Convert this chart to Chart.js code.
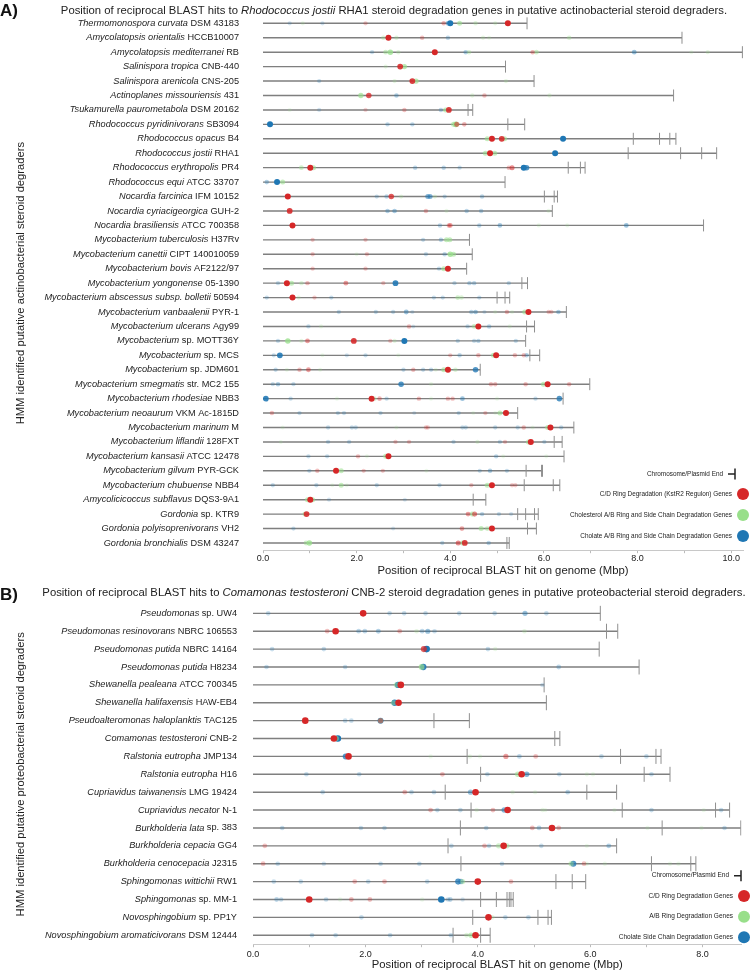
<!DOCTYPE html>
<html><head><meta charset="utf-8">
<script src="https://cdn.jsdelivr.net/npm/chart.js@4.4.1/dist/chart.umd.min.js"></script>
<style>
html,body{margin:0;padding:0;background:#fff;}
#wrap{position:relative;width:750px;height:973px;overflow:hidden;background:#fff;}
canvas{position:absolute;left:0;}
</style></head><body>
<div id="wrap">
<canvas id="chartA" width="750" height="580" style="top:0px"></canvas>
<canvas id="chartB" width="750" height="393" style="top:580px"></canvas>
</div>
<script>
// ---------------- DATA: panel A (actinobacteria) ----------------
const speciesA = ['Thermomonospora curvata','Amycolatopsis orientalis','Amycolatopsis mediterranei','Salinispora tropica','Salinispora arenicola','Actinoplanes missouriensis','Tsukamurella paurometabola','Rhodococcus pyridinivorans','Rhodococcus opacus','Rhodococcus jostii','Rhodococcus erythropolis','Rhodococcus equi','Nocardia farcinica','Nocardia cyriacigeorgica','Nocardia brasiliensis','Mycobacterium tuberculosis','Mycobacterium canettii','Mycobacterium bovis','Mycobacterium yongonense','Mycobacterium abscessus subsp. bolletii','Mycobacterium vanbaalenii','Mycobacterium ulcerans','Mycobacterium','Mycobacterium','Mycobacterium','Mycobacterium smegmatis','Mycobacterium rhodesiae','Mycobacterium neoaurum','Mycobacterium marinum','Mycobacterium liflandii','Mycobacterium kansasii','Mycobacterium gilvum','Mycobacterium chubuense','Amycolicicoccus subflavus','Gordonia','Gordonia polyisoprenivorans','Gordonia bronchialis'];
const strainsA = ['DSM 43183','HCCB10007','RB','CNB-440','CNS-205','431','DSM 20162','SB3094','B4','RHA1','PR4','ATCC 33707','IFM 10152','GUH-2','ATCC 700358','H37Rv','CIPT 140010059','AF2122/97','05-1390','50594','PYR-1','Agy99','sp. MOTT36Y','sp. MCS','sp. JDM601','str. MC2 155','NBB3','VKM Ac-1815D','M','128FXT','ATCC 12478','PYR-GCK','NBB4','DQS3-9A1','sp. KTR9','VH2','DSM 43247'];
// cumulative chromosome / plasmid end positions (Mbp)
const endsA = [[5.64],[8.95],[10.24],[5.18],[5.79],[8.77],[4.38,4.48],[5.23,5.59],[7.91,8.47,8.69,8.82],[7.8,8.92,9.37,9.69],
 [6.52,6.78,6.88],[5.17],[6.01,6.22,6.29],[6.18],[9.41],[4.41],[4.47],[4.35],[5.53,5.65],[5.0,5.17,5.27],
 [6.48],[5.63,5.8],[5.61],[5.7,5.91],[4.64],[6.98],[6.41],[5.44],[6.64],[6.22,6.39],
 [6.43],[5.62,5.95,5.97],[5.58,6.2,6.34],[4.49,4.76],[5.44,5.61,5.8,5.88],[5.65,5.84],[5.21,5.26]];
// hits: [position Mbp, hit score 0..1]
const cdHitsA = [
 [[2.19,.3],[3.86,.4],[5.23,1]],[[2.68,1],[3.4,.35]],[[3.67,1],[5.76,.4]],[[2.93,.9]],[[3.19,.9]],
 [[2.26,.8],[4.73,.35]],[[2.19,.25],[3.02,.35],[3.97,.9]],[[4.14,.6],[4.3,.4]],[[4.89,1],[5.1,.9]],[[4.85,1]],
 [[1.01,1],[5.25,.35],[5.32,.6]],[],[[0.53,1],[2.74,.8]],[[0.57,.9],[3.48,.35]],[[0.63,1],[3.97,.4],[4.0,.5]],
 [[1.06,.3],[2.19,.3]],[[1.06,.3],[2.22,.3]],[[1.06,.3],[2.19,.3],[3.95,1]],[[0.51,1],[0.95,.35],[1.77,.5],[2.57,.3]],[[0.63,1],[1.1,.3]],
 [[5.21,.35],[5.67,1],[6.1,.3],[6.16,.3]],[[3.12,.35],[4.6,1]],[[0.95,.5],[1.94,.9],[2.72,.3]],[[4.0,.3],[4.6,.35],[4.98,1],[5.38,.35],[5.57,.35]],
 [[0.78,.35],[0.97,.5],[3.21,.35],[3.95,1]],[[4.87,.35],[4.96,.35],[5.61,.35],[6.08,1],[6.54,.35]],[[2.32,1],[2.49,.4],[3.33,.35],[3.95,.35],[4.05,.35]],
 [[0.19,.35],[4.75,.3],[5.19,1]],[[3.48,.3],[3.52,.3],[5.57,.35],[6.14,1]],[[2.83,.3],[3.12,.3],[5.17,.3],[5.72,1]],[[2.03,.35],[2.68,1]],
 [[1.16,.35],[1.56,1],[2.15,.3],[2.56,.3]],[[4.45,.3],[4.89,1],[5.32,.3],[5.39,.3]],[[1.01,1]],[[0.93,.9],[4.38,.5],[4.52,.6]],[[4.25,.45],[4.89,1]],[[4.17,.6],[4.31,.9]]];
const abHitsA = [
 [[0.85,.25],[4.2,.6],[4.54,.35],[4.96,.3]],[[2.57,.4],[2.85,.35],[4.7,.3],[4.83,.25],[6.54,.4]],[[2.62,.5],[2.72,.8],[2.89,.35],[4.4,.4],[5.84,.5],[9.15,.2],[9.5,.3]],
 [[2.62,.3],[3.02,.7]],[[2.81,.3],[3.27,.7],[5.19,.3]],[[2.09,.7],[4.47,.3],[6.12,.3]],[[0.57,.2],[3.9,.6]],[[4.07,.6],[4.12,.9]],
 [[4.79,.6],[5.16,.6]],[[4.75,.6],[4.95,.6]],[[0.82,.5],[1.08,.6]],[[0.42,.6]],[[2.95,.3],[3.67,.3]],[[3.92,.25],[6.1,.25]],
 [[5.89,.25],[6.5,.2]],[[3.92,.6],[3.99,.6]],[[2.0,.2],[4.0,.8],[4.07,.6]],[[3.86,.6]],[[0.61,.6],[0.82,.35]],[[0.76,.3],[4.16,.5],[4.24,.4]],
 [[4.96,.25],[5.32,.25],[5.59,.6]],[[1.24,.25],[4.51,.5],[5.27,.25]],[[0.53,.8],[0.82,.3],[2.81,.3]],[[1.27,.2],[2.89,.2],[4.92,.6]],
 [[0.51,.25],[1.22,.25],[3.69,.25],[3.86,.6],[4.11,.4]],[[3.59,.25],[5.99,.6]],[[1.58,.2],[2.38,.4],[3.59,.2],[5.0,.2]],[[4.49,.2],[4.96,.2],[5.06,.6]],
 [[0.42,.2],[2.85,.2],[5.76,.2],[6.08,.6]],[[0.38,.2],[4.58,.3],[5.67,.6]],[[2.22,.2],[2.62,.6],[5.13,.2],[6.05,.2]],[[1.67,.6],[3.49,.2]],
 [[1.48,.2],[1.67,.6],[1.79,.2],[4.79,.6]],[[0.95,.6],[1.06,.6]],[[0.89,.5],[4.47,.6]],[[4.66,.6],[4.79,.5]],[[0.92,.5],[0.99,.8],[4.26,.6]]];
const chHitsA = [
 [[0.57,.25],[1.27,.25],[3.95,.5],[4.0,1]],[[3.95,.35]],[[2.33,.3],[4.33,.4],[7.93,.5]],[],[[1.2,.3]],[[2.85,.4]],[[1.2,.25],[3.8,.35]],
 [[0.15,1],[2.66,.35],[3.19,.35]],[[6.41,1]],[[6.24,1]],[[3.25,.35],[3.86,.35],[4.2,.3],[5.57,1],[5.63,.8]],[[0.08,.4],[0.3,1]],
 [[2.43,.3],[2.64,.35],[3.52,.6],[3.57,.6],[3.88,.3],[4.68,.35]],[[2.66,.4],[2.81,.45],[4.35,.35],[4.66,.35]],[[3.78,.35],[4.62,.35],[5.06,.45],[7.76,.5]],
 [[3.42,.3],[3.8,.35]],[[3.48,.3],[3.88,.35]],[[3.76,.3]],[[0.32,.3],[2.83,.9],[4.09,.3],[4.41,.35],[4.51,.35],[5.25,.3]],[[0.08,.3],[1.46,.3],[3.65,.3],[3.84,.3],[4.62,.3]],
 [[1.62,.3],[2.41,.3],[2.78,.3],[3.06,.5],[3.19,.25],[4.45,.35],[4.54,.45],[4.73,.25],[6.31,.4]],[[0.97,.3],[3.21,.2],[4.37,.3],[4.83,.35]],
 [[0.32,.3],[3.02,1],[4.16,.3],[4.51,.3],[4.6,.35],[5.4,.3]],[[0.23,.3],[0.36,.9],[1.79,.25],[2.19,.3],[4.2,.35],[5.63,.4]],
 [[0.27,.3],[3.0,.3],[3.42,.3],[3.59,.3],[4.54,.8]],[[0.21,.3],[0.32,.4],[0.65,.3],[2.95,.8]],[[0.06,.9],[0.59,.3],[2.64,.3],[4.26,.5],[5.82,.3],[6.33,.8]],
 [[0.78,.3],[1.6,.3],[1.73,.3],[2.51,.3],[3.23,.2],[4.18,.3]],[[1.39,.3],[1.9,.3],[1.98,.3],[4.26,.3],[4.33,.3],[4.96,.3],[5.44,.3],[6.37,.3]],
 [[1.39,.3],[1.84,.3],[4.07,.3],[5.06,.3],[6.01,.3]],[[0.97,.3],[1.37,.3],[4.98,.35]],[[0.99,.3],[4.63,.3],[4.85,.4],[5.21,.3]],
 [[0.21,.3],[1.14,.3],[2.43,.3],[3.77,.3]],[[1.41,.25],[3.03,.2]],[[4.68,.35],[5.04,.3],[5.3,.25]],[[0.65,.3],[2.78,.2]],[[3.83,.3],[4.82,.35]]];
const titleA = [['Position of reciprocal BLAST hits to ', false], ['Rhodococcus jostii', true], [' RHA1 steroid degradation genes in putative actinobacterial steroid degraders.', false]];
const yTitleA = 'HMM identified putative actinobacterial steroid degraders';
const legendA = ['Chromosome/Plasmid End', 'C/D Ring Degradation (KstR2 Regulon) Genes', 'Cholesterol A/B Ring and Side Chain Degradation Genes', 'Cholate A/B Ring and Side Chain Degradation Genes'];

// ---------------- DATA: panel B (proteobacteria) ----------------
const speciesB = ['Pseudomonas','Pseudomonas resinovorans','Pseudomonas putida','Pseudomonas putida','Shewanella pealeana','Shewanella halifaxensis','Pseudoalteromonas haloplanktis','Comamonas testosteroni','Ralstonia eutropha','Ralstonia eutropha','Cupriavidus taiwanensis','Cupriavidus necator','Burkholderia lata','Burkholderia cepacia','Burkholderia cenocepacia','Sphingomonas wittichii','Sphingomonas','Novosphingobium','Novosphingobium aromaticivorans'];
const strainsB = ['sp. UW4','NBRC 106553','NBRC 14164','H8234','ATCC 700345','HAW-EB4','TAC125','CNB-2','JMP134','H16','LMG 19424','N-1','sp. 383','GG4','J2315','RW1','sp. MM-1','sp. PP1Y','DSM 12444'];
const endsB = [[6.18],[6.29,6.49],[6.16],[6.87],[5.18],[5.22],[3.22,3.85],[5.37,5.46],[3.81,6.54,7.17,7.26],[4.05,6.96,7.42],
 [3.42,5.94,6.47],[3.88,6.57,8.23,8.48],[3.69,7.28,8.68],[3.47,6.47],[3.7,7.09,7.79,7.88],[5.39,5.68,5.92],[4.05,4.33,4.52,4.56,4.59,4.63],[3.91,5.07,5.25,5.31],[3.56,4.05,4.22]];
const cdHitsB = [
 [[1.96,1]],[[1.32,.35],[1.47,1],[2.61,.35]],[[3.04,.8]],[],[[2.63,1]],[[2.59,1]],[[0.93,1],[2.27,.5]],[[1.44,1]],
 [[1.7,1],[4.5,.5],[5.03,.35]],[[3.37,.35],[4.78,1]],[[2.7,.35],[3.96,1]],[[3.16,.35],[4.27,.35],[4.53,1]],
 [[4.97,.35],[5.32,1],[5.44,.35]],[[0.21,.35],[4.12,.35],[4.46,1]],[[0.18,.35],[5.89,.35]],[[1.81,.35],[2.34,.35],[4.0,1],[4.59,.35]],
 [[1.0,1],[1.75,.35],[2.08,.35]],[[4.19,1]],[[3.96,1]]];
const abHitsB = [
 [],[[2.91,.3],[4.83,.3]],[[4.31,.25]],[[3.0,.7]],[[2.55,.5]],[[2.5,.5]],[[2.27,.5]],[[1.48,.6]],
 [[3.16,.2],[3.86,.25],[4.04,.2]],[[4.71,.6],[5.94,.2],[6.05,.2]],[[4.62,.25],[5.02,.2]],[[3.98,.25],[5.15,.25],[5.2,.2],[6.43,.2],[8.02,.2]],
 [[7.02,.2],[7.98,.2]],[[4.37,.5],[4.52,.5],[5.94,.2]],[[5.66,.5],[5.94,.2],[6.26,.2],[7.42,.2],[7.57,.2]],[[3.73,.5]],
 [[1.55,.2],[3.01,.2]],[[4.26,.3]],[[3.8,.35],[3.88,.6]]];
const chHitsB = [
 [[0.27,.3],[2.43,.3],[2.69,.3],[3.07,.3],[3.67,.3],[4.3,.3],[4.84,.5],[5.22,.3]],[[1.88,.35],[1.99,.35],[2.23,.4],[3.01,.35],[3.11,.5],[3.23,.3]],
 [[0.34,.3],[1.26,.3],[3.09,1],[4.18,.3]],[[0.24,.3],[1.64,.3],[3.03,.9],[5.44,.35]],[[2.58,.9],[5.15,.25]],[[2.52,.9]],[[1.64,.3],[1.75,.3],[2.27,.8]],[[1.51,1]],
 [[1.65,.8],[4.74,.35],[6.2,.3],[7.0,.3]],[[0.95,.3],[1.89,.3],[4.17,.3],[4.87,.6],[5.45,.3],[7.09,.3]],[[1.24,.3],[2.82,.3],[3.22,.3],[3.87,.5],[5.6,.35]],
 [[3.28,.3],[3.69,.3],[4.47,.6],[7.09,.3],[8.33,.3]],[[0.52,.3],[1.92,.3],[2.34,.3],[4.15,.3],[5.09,.35],[8.39,.3]],[[3.53,.3],[4.2,.3],[5.13,.3],[6.33,.4]],
 [[0.44,.3],[1.26,.25],[2.27,.3],[2.96,.3],[4.43,.3],[5.7,.8]],[[0.37,.3],[0.85,.3],[2.05,.3],[3.1,.3],[3.65,.8],[3.7,.6]],
 [[0.42,.35],[0.5,.3],[1.3,.3],[3.35,1],[3.47,.3],[3.51,.35],[3.73,.2]],[[1.93,.3],[4.49,.3],[4.9,.3]],[[1.05,.3],[1.47,.3],[2.44,.3],[3.52,.3]]];
const titleB = [['Position of reciprocal BLAST hits to ', false], ['Comamonas testosteroni', true], [' CNB-2 steroid degradation genes in putative proteobacterial steroid degraders.', false]];
const yTitleB = 'HMM identified putative proteobacterial steroid degraders';
const legendB = ['Chromosome/Plasmid End', 'C/D Ring Degradation Genes', 'A/B Ring Degradation Genes', 'Cholate Side Chain Degradation Genes'];
const xTitle = 'Position of reciprocal BLAST hit on genome (Mbp)';

// ---------------- rendering ----------------
const FONT = "'Liberation Sans', Arial, Helvetica, sans-serif";
const COL = { cd: [214, 39, 40], ab: [152, 223, 138], ch: [31, 119, 180] };
const rgba = (c, a) => `rgba(${c[0]},${c[1]},${c[2]},${a})`;

function drawRuns(ctx, runs, x, y, align, size, color) {
  let total = 0;
  const widths = runs.map(r => { ctx.font = (r[1] ? 'italic ' : '') + size + 'px ' + FONT; const w = ctx.measureText(r[0]).width; total += w; return w; });
  let cx = align === 'right' ? x - total : align === 'center' ? x - total / 2 : x;
  ctx.fillStyle = color; ctx.textAlign = 'left'; ctx.textBaseline = 'middle';
  runs.forEach((r, i) => { ctx.font = (r[1] ? 'italic ' : '') + size + 'px ' + FONT; ctx.fillText(r[0], cx, y); cx += widths[i]; });
}

function rowsToPoints(rows) { const pts = []; rows.forEach((row, i) => row.forEach(h => pts.push({ x: h[0], y: i, s: h[1] }))); return pts; }

function buildPanel(canvasId, d, L) {
  const n = d.species.length;
  const linePts = [], endPts = [];
  d.ends.forEach((arr, i) => {
    linePts.push({ x: 0, y: i }, { x: arr[arr.length - 1], y: i }, { x: null, y: i });
    arr.forEach(e => endPts.push({ x: e, y: i }));
  });
  const hitSet = (label, rows, col, order) => ({
    type: 'scatter', label, data: rowsToPoints(rows), order,
    pointStyle: 'circle', pointBorderWidth: 0,
    pointBackgroundColor: c => rgba(col, c.raw ? Math.max(0.16, Math.pow(c.raw.s, 1.2)) : 1),
    pointRadius: c => c.raw ? L.dotBase + L.dotGain * c.raw.s : 3,
    pointHoverRadius: c => c.raw ? L.dotBase + L.dotGain * c.raw.s : 3
  });
  const textPlugin = {
    id: 'panelText' + canvasId,
    afterDraw(chart) {
      const ctx = chart.ctx, ys = chart.scales.y;
      ctx.save();
      d.species.forEach((sp, i) => {
        drawRuns(ctx, [[sp, true], [' ' + d.strains[i], false]], L.nameRight, ys.getPixelForValue(i), 'right', L.nameSize, '#222');
      });
      ctx.font = 'bold ' + L.letterSize + 'px ' + FONT; ctx.fillStyle = '#111'; ctx.textAlign = 'left'; ctx.textBaseline = 'middle';
      ctx.fillText(d.letter, 0, L.letterY);
      drawRuns(ctx, d.title, L.titleX, L.titleY, 'center', L.titleSize, '#222');
      // legend
      const ly = L.legendYs;
      ctx.strokeStyle = '#222'; ctx.lineWidth = 1.5;
      ctx.beginPath(); ctx.moveTo(L.endSymX - 7, ly[0]); ctx.lineTo(L.endSymX, ly[0]);
      ctx.moveTo(L.endSymX, ly[0] - 5.5); ctx.lineTo(L.endSymX, ly[0] + 5.5); ctx.stroke();
      drawRuns(ctx, [[d.legend[0], false]], L.endSymX - 12, ly[0], 'right', L.legendSize, '#222');
      [COL.cd, COL.ab, COL.ch].forEach((c, k) => {
        ctx.fillStyle = rgba(c, 1); ctx.beginPath(); ctx.arc(L.legendX, ly[k + 1], L.legendR, 0, Math.PI * 2); ctx.fill();
        drawRuns(ctx, [[d.legend[k + 1], false]], L.legendX - L.legendR - 5, ly[k + 1], 'right', L.legendSize, '#222');
      });
      ctx.restore();
    }
  };
  return new Chart(document.getElementById(canvasId), {
    type: 'scatter',
    data: { datasets: [
      hitSet(d.legend[1], d.cd, COL.cd, 0),
      hitSet(d.legend[2], d.ab, COL.ab, 1),
      hitSet(d.legend[3], d.ch, COL.ch, 2),
      { type: 'scatter', label: d.legend[0], data: endPts, order: 3, pointStyle: 'line', pointRotation: 90,
        pointRadius: L.tickR, pointHoverRadius: L.tickR, pointBorderColor: '#8f8f8f', pointBorderWidth: 1 },
      { type: 'line', label: 'genome', data: linePts, order: 4, borderColor: 'rgba(120,120,120,0.95)', borderWidth: 1.4,
        pointRadius: 0, pointHoverRadius: 0, spanGaps: false, fill: false, tension: 0 }
    ] },
    options: {
      responsive: false, animation: false, devicePixelRatio: 1,
      layout: { padding: { top: L.padTop, right: L.padRight, left: 0, bottom: 0 } },
      plugins: { legend: { display: false }, tooltip: { enabled: false }, title: { display: false } },
      events: [],
      scales: {
        x: { type: 'linear', min: 0, max: L.xMax,
          afterFit: s => { s.height = L.xAxisH; },
          ticks: { stepSize: 1, includeBounds: false, autoSkip: false, maxRotation: 0,
            callback: v => (v % 2 === 0 ? v.toFixed(1) : ''), font: { family: FONT, size: L.tickSize }, color: '#222', padding: L.tickPad },
          grid: { drawOnChartArea: false, drawTicks: true, tickLength: 3, color: '#bbb' },
          border: { display: true, color: '#c8c8c8' },
          title: { display: true, text: xTitle, font: { family: FONT, size: 11.3 }, color: '#222', padding: { top: 0, bottom: L.xTitlePadB } } },
        y: { type: 'linear', reverse: true, min: -0.5, max: n - 0.5,
          afterFit: s => { s.width = L.yAxisW; },
          ticks: { display: false }, grid: { display: false }, border: { display: false },
          title: { display: true, text: d.yTitle, font: { family: FONT, size: 11.2 }, color: '#222', padding: { top: 14.5, bottom: 0 } } }
      }
    },
    plugins: [textPlugin]
  });
}

buildPanel('chartA', { species: speciesA, strains: strainsA, ends: endsA, cd: cdHitsA, ab: abHitsA, ch: chHitsA, title: titleA, yTitle: yTitleA, legend: legendA, letter: 'A)' },
  { yAxisW: 263, padTop: 16.1, padRight: 1, xAxisH: 29.8, xMax: 10.253, nameRight: 239, nameSize: 9.2,
    titleX: 394, titleY: 10.5, titleSize: 11.3, letterY: 11, letterSize: 17, tickPad: 0, tickSize: 9, xTitlePadB: 2.8,
    dotBase: 1.8, dotGain: 1.2, tickR: 6, legendX: 743, legendR: 6, legendYs: [474, 494, 515, 536], endSymX: 735, legendSize: 6.4 });

buildPanel('chartB', { species: speciesB, strains: strainsB, ends: endsB, cd: cdHitsB, ab: abHitsB, ch: chHitsB, title: titleB, yTitle: yTitleB, legend: legendB, letter: 'B)' },
  { yAxisW: 253, padTop: 24.4, padRight: 1, xAxisH: 28.8, xMax: 8.692, nameRight: 237, nameSize: 9.2,
    titleX: 394, titleY: 13, titleSize: 11.3, letterY: 15, letterSize: 17, tickPad: 2, tickSize: 9, xTitlePadB: 1.3,
    dotBase: 1.9, dotGain: 1.4, tickR: 7.5, legendX: 744, legendR: 6, legendYs: [295.7, 316, 336.7, 357.3], endSymX: 741, legendSize: 6.5 });
</script>
</body></html>
